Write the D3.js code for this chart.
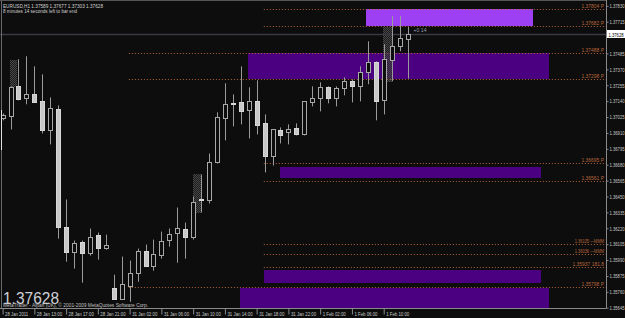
<!DOCTYPE html>
<html><head><meta charset="utf-8">
<script src="https://cdn.jsdelivr.net/npm/d3@7/dist/d3.min.js"></script>
<style>html,body{margin:0;padding:0;background:#0d0d0d;overflow:hidden}svg{display:block}</style>
</head><body>
<svg id="c" width="625" height="318"></svg>
<script>
// ---------- data ----------
const symbol = "EURUSD,H1";
const lastQuote = [1.37589, 1.37677, 1.37303, 1.37628]; // O H L C of current bar
const timerText = "8 minutes 14 seconds left to bar end";
const changeText = "+0 14";

const opens  = [1.37015,1.37030,1.37247,1.37160,1.37189,1.37138,1.36928,1.37080,1.36232,1.36051,
                1.36123,1.36044,1.36174,1.36080,1.35790,1.35710,1.35804,1.35899,1.36058,1.35949,
                1.36029,1.36138,1.36189,1.36218,1.36160,1.36435,1.36428,1.36703,1.37015,1.37124,
                1.37131,1.37073,1.37138,1.36979,1.36740,1.36928,1.36914,1.36943,1.36899,1.37131,
                1.37160,1.37240,1.37160,1.37233,1.37283,1.37247,1.37349,1.37421,1.37146,1.37436,
                1.37537,1.37589];
const highs  = [1.37051,1.37247,1.37443,1.37465,1.37392,1.37334,1.37167,1.37109,1.36428,1.36131,
                1.36131,1.36218,1.36189,1.36174,1.35884,1.36015,1.35986,1.36073,1.36102,1.36138,
                1.36196,1.36218,1.36370,1.36261,1.36450,1.36609,1.36761,1.37059,1.37269,1.37189,
                1.37392,1.37240,1.37291,1.37044,1.36935,1.36950,1.36972,1.36979,1.37138,1.37247,
                1.37276,1.37247,1.37247,1.37312,1.37298,1.37392,1.37573,1.37428,1.37552,1.37755,
                1.37755,1.37677];
const lows   = [1.37001,1.36935,1.37146,1.37117,1.37131,1.36906,1.36827,1.36145,1.35978,1.35928,
                1.35826,1.36022,1.35993,1.36065,1.35703,1.35703,1.35688,1.35833,1.35942,1.35913,
                1.36000,1.36087,1.35971,1.36000,1.36138,1.36334,1.36399,1.36689,1.36856,1.36957,
                1.36972,1.36870,1.36899,1.36624,1.36674,1.36834,1.36827,1.36892,1.36892,1.37102,
                1.37066,1.37124,1.37102,1.37182,1.37131,1.37138,1.37262,1.37001,1.37044,1.37283,
                1.37501,1.37303];
const closes = [1.37037,1.37240,1.37153,1.37189,1.37131,1.36928,1.37088,1.36232,1.36051,1.36116,
                1.36044,1.36160,1.36080,1.36102,1.35710,1.35819,1.35899,1.36058,1.35949,1.36036,
                1.36131,1.36181,1.36225,1.36160,1.36413,1.36421,1.36696,1.37022,1.37117,1.37120,
                1.37066,1.37138,1.36964,1.36740,1.36935,1.36892,1.36935,1.36899,1.37138,1.37160,
                1.37240,1.37160,1.37233,1.37283,1.37247,1.37349,1.37421,1.37138,1.37443,1.37537,
                1.37595,1.37628];

const timeTickBars   = [0,4,8,12,16,20,24,28,32,36,40,44,48];
const timeTickLabels = ["28 Jan 2011","28 Jan 13:00","28 Jan 17:00","28 Jan 21:00","31 Jan 02:00",
                        "31 Jan 06:00","31 Jan 10:00","31 Jan 14:00","31 Jan 18:00","31 Jan 22:00",
                        "1 Feb 02:00","1 Feb 06:00","1 Feb 10:00"];
const priceTicks = [1.37830,1.37715,1.37485,1.37370,1.37255,1.37140,1.37025,1.36910,1.36795,
                    1.36680,1.36565,1.36450,1.36335,1.36220,1.36105,1.35990,1.35875,1.35760,1.35645];

// horizontal levels (dotted) : price, tag, first bar
const levelPrices = [1.37804,1.37682,1.37488,1.37298,1.36695,1.36561,1.36105,1.36036,1.35937,1.35798];
const levelTags   = ["P","P","P","P","P","P","—MMM","—MMM","181.8","P"];
const levelStart  = [32.9,32.9,15.9,15.9,32.9,32.9,32.9,32.9,32.9,15.9];

// zones (rectangles): top, bottom, from bar, to bar, kind
const zoneTop    = [1.37810,1.37488,1.36664,1.35919,1.35789];
const zoneBottom = [1.37684,1.37298,1.36585,1.35825,1.35600];
const zoneFrom   = [45.8,30.9,34.9,32.9,29.9];
const zoneTo     = [66.8,68.8,67.8,67.8,68.8];
const zoneKind   = ["light","dark","dark","dark","dark"];

// shaded (hatched) boxes: from bar, to bar, top, bottom
const shadeFrom   = [0.95,24.0,47.9];
const shadeTo     = [1.85,25.0,49.0];
const shadeTop    = [1.37438,1.36613,1.37677];
const shadeBottom = [1.37243,1.36331,1.37279];

// ---------- drawing ----------
const W = 625, H = 318, plotR = 606, plotB = 308;
const FONT = "'Liberation Sans', Arial, sans-serif";
const svg = d3.select("#c");
const x = d3.scaleLinear().domain([0, 51]).range([2.6, 407.5]);
const y = d3.scaleLinear().domain([1.35643, 1.37872]).range([plotB, 0]);

const defs = svg.append("defs");
defs.append("clipPath").attr("id","plot").append("rect").attr("x",0).attr("y",0).attr("width",plotR).attr("height",plotB);
const pat = defs.append("pattern").attr("id","hatch").attr("width",2).attr("height",2).attr("patternUnits","userSpaceOnUse");
pat.append("rect").attr("x",0).attr("y",0).attr("width",2).attr("height",2).attr("fill","#262626").attr("fill-opacity",0.6);
pat.append("rect").attr("x",0).attr("y",0).attr("width",1).attr("height",1).attr("fill","#474747");
pat.append("rect").attr("x",1).attr("y",1).attr("width",1).attr("height",1).attr("fill","#474747");

svg.append("rect").attr("width",W).attr("height",H).attr("fill","#0d0d0d");
const g = svg.append("g").attr("clip-path","url(#plot)");

// zones
g.selectAll("rect.zone").data(zoneTop).join("rect").attr("class","zone")
  .attr("x",(d,i)=>Math.round(x(zoneFrom[i])))
  .attr("width",(d,i)=>Math.round(x(zoneTo[i]))-Math.round(x(zoneFrom[i])))
  .attr("y",(d,i)=>Math.round(y(zoneTop[i])))
  .attr("height",(d,i)=>Math.round(y(zoneBottom[i]))-Math.round(y(zoneTop[i])))
  .attr("fill",(d,i)=>zoneKind[i]==="light" ? "#9d3ff2" : "#4b0082");

// hatched boxes
g.selectAll("rect.shade").data(shadeTop).join("rect").attr("class","shade")
  .attr("x",(d,i)=>Math.round(x(shadeFrom[i])))
  .attr("width",(d,i)=>Math.round(x(shadeTo[i]))-Math.round(x(shadeFrom[i])))
  .attr("y",(d,i)=>Math.round(y(shadeTop[i])))
  .attr("height",(d,i)=>Math.round(y(shadeBottom[i]))-Math.round(y(shadeTop[i])))
  .attr("fill","url(#hatch)");

// level lines
const lvColor = "#b8663c";
g.selectAll("line.lv").data(levelPrices).join("line").attr("class","lv")
  .attr("x1",(d,i)=>x(levelStart[i])).attr("x2",plotR)
  .attr("y1",d=>Math.round(y(d))+0.5).attr("y2",d=>Math.round(y(d))+0.5)
  .attr("stroke",lvColor).attr("stroke-width",1).attr("stroke-dasharray","1,2");

// current price line
g.append("line").attr("x1",0).attr("x2",plotR)
  .attr("y1",Math.round(y(lastQuote[3]))+0.5).attr("y2",Math.round(y(lastQuote[3]))+0.5)
  .attr("stroke","#3a3a44").attr("stroke-width",1.5);

// candles
const idx = d3.range(opens.length);
const cg = g.append("g");
cg.selectAll("line.wick").data(idx).join("line").attr("class","wick")
  .attr("x1",i=>Math.round(x(i))+0.5).attr("x2",i=>Math.round(x(i))+0.5)
  .attr("y1",i=>y(highs[i])).attr("y2",i=>y(lows[i]))
  .attr("stroke","#9a9a9a").attr("stroke-width",1);
cg.selectAll("rect.body").data(idx).join("rect").attr("class","body")
  .attr("x",i=>Math.round(x(i))-2+0.5)
  .attr("width",4)
  .attr("y",i=>Math.round(y(Math.max(opens[i],closes[i])))+0.5)
  .attr("height",i=>Math.max(0.5,Math.round(y(Math.min(opens[i],closes[i])))-Math.round(y(Math.max(opens[i],closes[i])))))
  .attr("fill",i=>closes[i]>=opens[i] ? "#0d0d0d" : "#c8c8c8")
  .attr("stroke",i=>closes[i]>=opens[i] ? "#a8a8a8" : "#d8d8d8")
  .attr("stroke-width",1);

// level labels
const lvLabels = levelPrices.map((p,i)=>p.toFixed(5)+"  "+levelTags[i]);
svg.selectAll("text.lvl").data(lvLabels).join("text").attr("class","lvl")
  .attr("x",604).attr("y",(d,i)=>Math.round(y(levelPrices[i]))-1)
  .attr("text-anchor","end").attr("font-family",FONT).attr("font-size",5.5)
  .attr("fill",lvColor).attr("textLength",d=>d.length*2.25).attr("lengthAdjust","spacingAndGlyphs")
  .text(d=>d);

// change text near last bar
svg.append("text").attr("x",x(51)+6).attr("y",y(lastQuote[1])+5)
  .attr("font-family",FONT).attr("font-size",5.5).attr("fill","#9a9aa8")
  .attr("textLength",13).attr("lengthAdjust","spacingAndGlyphs").text(changeText);

// frame
const frameColor = "#8a8a8a";
svg.append("line").attr("x1",0).attr("x2",plotR+0.5).attr("y1",plotB+0.5).attr("y2",plotB+0.5).attr("stroke",frameColor);
svg.append("line").attr("x1",1.5).attr("x2",1.5).attr("y1",0).attr("y2",plotB).attr("stroke","#6a6a6a");
svg.append("line").attr("x1",1.5).attr("x2",1.5).attr("y1",110).attr("y2",150).attr("stroke","#e0e0e0");
svg.append("line").attr("x1",0).attr("x2",plotR).attr("y1",0.5).attr("y2",0.5).attr("stroke","#555");

// price axis
const yAxis = d3.axisRight(y).tickValues(priceTicks).tickSize(2).tickPadding(1).tickFormat(d3.format(".5f"));
const ya = svg.append("g").attr("transform",`translate(${plotR+0.5},0)`).call(yAxis);
ya.select(".domain").attr("stroke",frameColor).attr("d",`M0,0V${plotB}`);
ya.selectAll(".tick line").attr("stroke",frameColor);
ya.selectAll(".tick text").attr("fill","#c8c8c8").attr("font-family",FONT).attr("font-size",5.5)
  .attr("textLength",15).attr("lengthAdjust","spacingAndGlyphs");

// current price box
const cy = Math.round(y(lastQuote[3]));
svg.append("rect").attr("x",plotR+1).attr("y",cy-4).attr("width",W-plotR-1).attr("height",8).attr("fill","#ffffff");
svg.append("text").attr("x",plotR+2.5).attr("y",cy+2.5).attr("font-family",FONT).attr("font-size",5.5)
  .attr("fill","#000").attr("textLength",15).attr("lengthAdjust","spacingAndGlyphs").text(lastQuote[3].toFixed(5));

// time axis
const xAxis = d3.axisBottom(x).tickValues(timeTickBars).tickSize(6).tickFormat((d,i)=>timeTickLabels[i]);
const xa = svg.append("g").attr("transform",`translate(0,${plotB+0.5})`).call(xAxis);
xa.select(".domain").remove();
xa.selectAll(".tick line").attr("stroke",frameColor);
xa.selectAll(".tick text").attr("fill","#c8c8c8").attr("font-family",FONT).attr("font-size",5.5)
  .attr("text-anchor","start").attr("dx",2).attr("y",3.5).attr("dy","0.71em")
  .attr("textLength",(d,i)=>timeTickLabels[i].length*2.1).attr("lengthAdjust","spacingAndGlyphs");

// header
svg.append("text").attr("x",3).attr("y",7.5).attr("font-family",FONT).attr("font-size",5.5).attr("fill","#d0d0d0")
  .attr("textLength",100).attr("lengthAdjust","spacingAndGlyphs")
  .text(symbol+"  "+lastQuote.map(v=>v.toFixed(5)).join(" "));
svg.append("text").attr("x",3).attr("y",12.5).attr("font-family",FONT).attr("font-size",5.5).attr("fill","#d0d0d0")
  .attr("textLength",74).attr("lengthAdjust","spacingAndGlyphs").text(timerText);

// big price + copyright
svg.append("text").attr("x",3).attr("y",304).attr("font-family",FONT).attr("font-size",17).attr("fill","#cfcfd6")
  .attr("textLength",56).attr("lengthAdjust","spacingAndGlyphs").text(lastQuote[3].toFixed(5));
svg.append("text").attr("x",3).attr("y",306.5).attr("font-family",FONT).attr("font-size",5).attr("fill","#c0c0c0")
  .attr("textLength",145).attr("lengthAdjust","spacingAndGlyphs")
  .text("MetaTrader - Alpari (UK), © 2001-2009 MetaQuotes Software Corp.");
</script>
</body></html>
